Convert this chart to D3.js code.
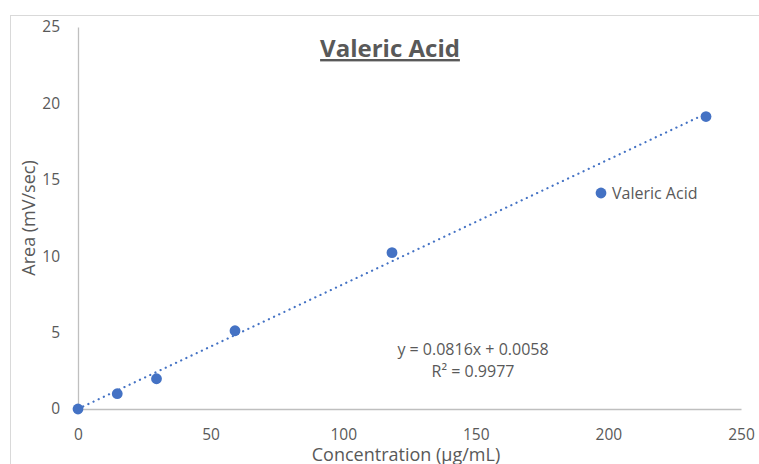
<!DOCTYPE html>
<html>
<head>
<meta charset="utf-8">
<script src="https://cdn.jsdelivr.net/npm/d3@7"></script>
<style>
  body { margin: 0; background: #fff; }
  text { font-family: "Open Sans", "Liberation Sans", sans-serif; fill: #595959; }
</style>
</head>
<body>
<div id="chart"></div>
<script>
// ========== Data ==========
const concentrations = [0, 14.8, 29.6, 59.2, 118.4, 236.8];
const areas = [0, 1.0, 1.98, 5.12, 10.23, 19.14];
const xTicks = [0, 50, 100, 150, 200, 250];
const yTicks = [0, 5, 10, 15, 20, 25];
const trendSlope = 0.0816;
const trendIntercept = 0.0058;
const trendLabels = ["y = 0.0816x + 0.0058", "R² = 0.9977"];
const seriesName = "Valeric Acid";

// ========== Render ==========
const width = 759;
const height = 464;
const margin = { top: 27, right: 18, bottom: 55, left: 78 };

const svg = d3
  .select("#chart")
  .append("svg")
  .attr("width", width)
  .attr("height", height);

// chart frame
svg
  .append("rect")
  .attr("x", 10.5)
  .attr("y", 15.5)
  .attr("width", width + 20)
  .attr("height", height + 20)
  .attr("fill", "none")
  .attr("stroke", "#d9d9d9");

const x = d3
  .scaleLinear()
  .domain([0, 250])
  .range([margin.left, width - margin.right]);

const y = d3
  .scaleLinear()
  .domain([0, 25])
  .range([height - margin.bottom, margin.top]);

// Axes
const xAxis = svg
  .append("g")
  .attr("transform", `translate(0,${y(0)})`)
  .call(d3.axisBottom(x).tickValues(xTicks).tickSize(0).tickPadding(20));

const yAxis = svg
  .append("g")
  .attr("transform", `translate(${x(0)},0)`)
  .call(d3.axisLeft(y).tickValues(yTicks).tickSize(0).tickPadding(18));

[xAxis, yAxis].forEach((g) => {
  g.select(".domain").attr("stroke", "#bfbfbf").attr("stroke-width", 1.3);
  g.selectAll("text")
    .style("font-size", "15.5px")
    .style("font-family", "'Open Sans', sans-serif")
    .attr("fill", "#595959");
});

// Axis labels
svg
  .append("text")
  .attr("x", 406)
  .attr("y", 461)
  .attr("text-anchor", "middle")
  .style("font-size", "18px")
  .text("Concentration (µg/mL)");

svg
  .append("text")
  .attr("transform", "rotate(-90)")
  .attr("x", -218)
  .attr("y", 35)
  .attr("text-anchor", "middle")
  .style("font-size", "18px")
  .text("Area (mV/sec)");

// Title
svg
  .append("text")
  .attr("x", 390)
  .attr("y", 57)
  .attr("text-anchor", "middle")
  .style("font-size", "24px")
  .style("font-weight", "bold")
  .style("text-decoration", "underline")
  .text(seriesName);

// Trendline
const xMax = d3.max(concentrations);
svg
  .append("line")
  .attr("x1", x(0))
  .attr("y1", y(trendIntercept))
  .attr("x2", x(xMax))
  .attr("y2", y(trendSlope * xMax + trendIntercept))
  .attr("stroke", "#4472c4")
  .attr("stroke-width", 2.2)
  .attr("stroke-linecap", "round")
  .attr("stroke-dasharray", "0.1,5.6");

// Points
svg
  .append("g")
  .selectAll("circle")
  .data(concentrations)
  .enter()
  .append("circle")
  .attr("cx", (d) => x(d))
  .attr("cy", (d, i) => y(areas[i]))
  .attr("r", 5.4)
  .attr("fill", "#4472c4");

// Trend equation
svg
  .append("g")
  .selectAll("text")
  .data(trendLabels)
  .enter()
  .append("text")
  .attr("x", 473)
  .attr("y", (d, i) => 355 + i * 22)
  .attr("text-anchor", "middle")
  .style("font-size", "16px")
  .text((d) => d);

// Legend
svg
  .append("circle")
  .attr("cx", 601)
  .attr("cy", 193)
  .attr("r", 5.4)
  .attr("fill", "#4472c4");

svg
  .append("text")
  .attr("x", 612)
  .attr("y", 199)
  .style("font-size", "16px")
  .text(seriesName);
</script>
</body>
</html>
